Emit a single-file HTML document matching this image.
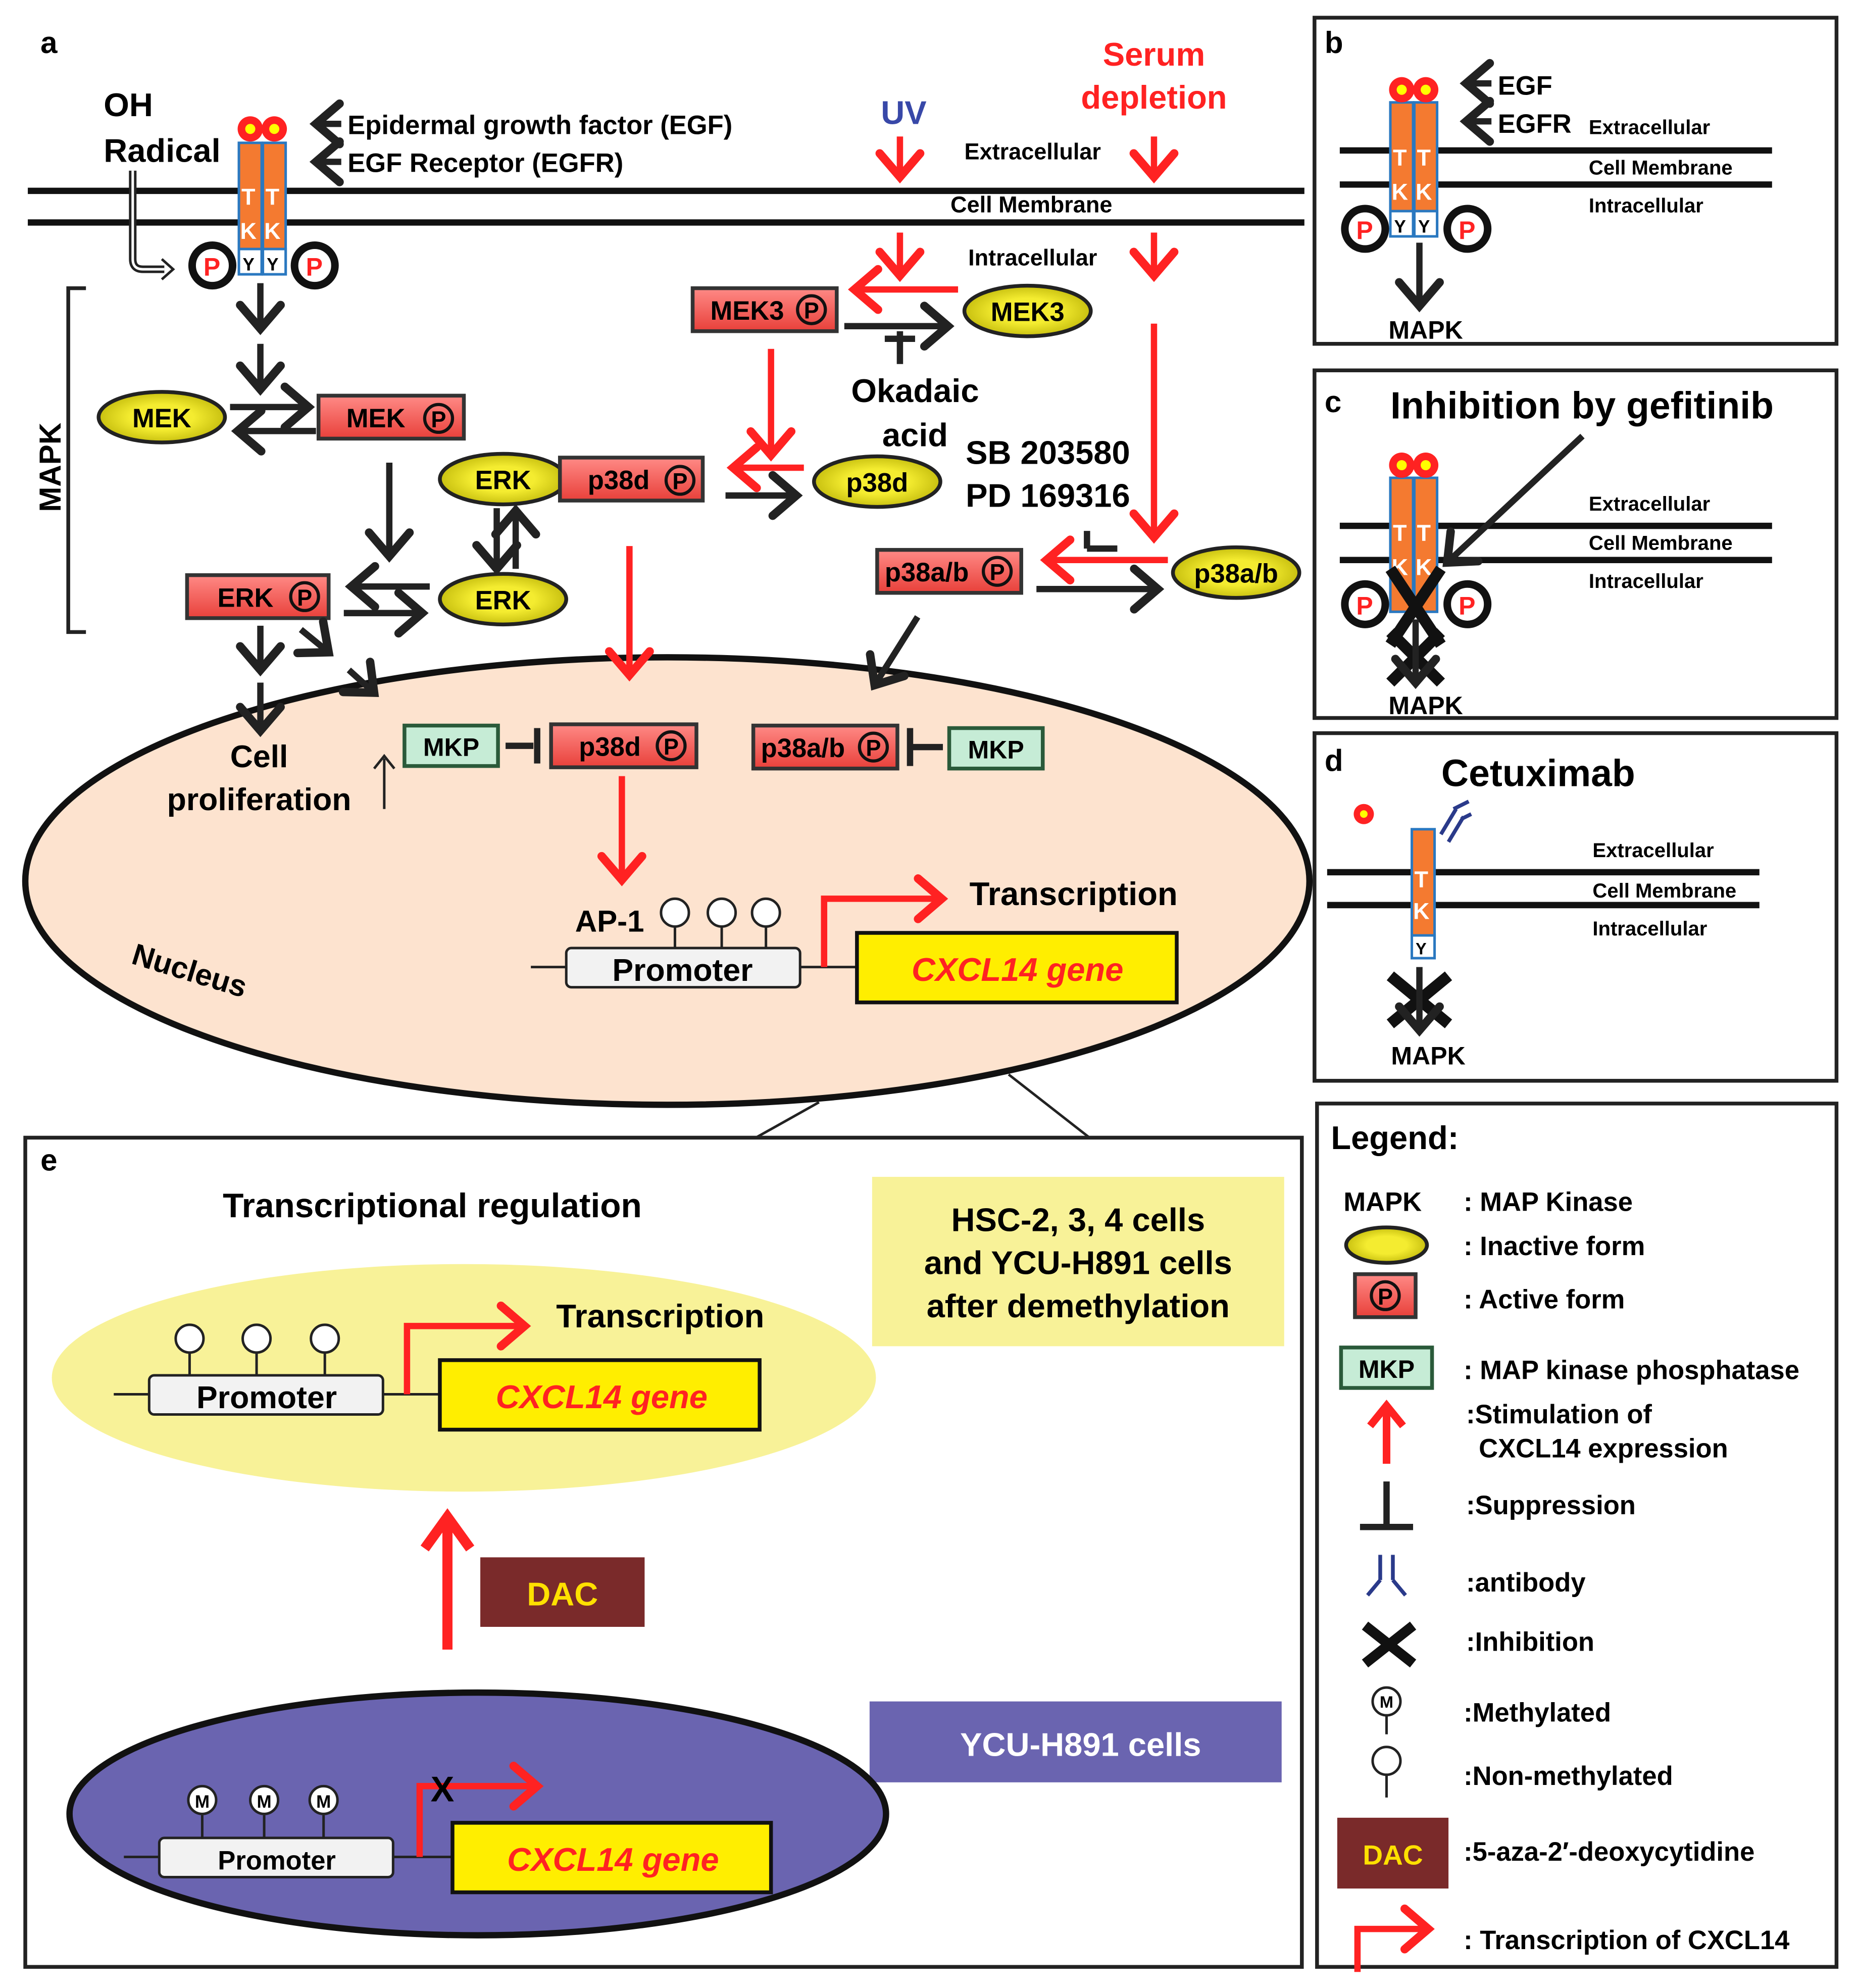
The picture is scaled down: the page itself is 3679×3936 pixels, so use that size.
<!DOCTYPE html>
<html><head><meta charset="utf-8"><style>
html,body{margin:0;padding:0;background:#fff}
svg{display:block}
text{font-family:"Liberation Sans",sans-serif;font-weight:bold}
</style></head><body>
<svg width="3679" height="3936" viewBox="0 0 1470 1572.7" xmlns="http://www.w3.org/2000/svg">
<defs>
<marker id="ab" markerUnits="userSpaceOnUse" markerWidth="40" markerHeight="40" refX="18" refY="15" orient="auto" viewBox="0 0 30 30">
<polyline points="4,3 18,15 4,27" fill="none" stroke="#222" stroke-width="5" stroke-linecap="round"/></marker>
<marker id="ar" markerUnits="userSpaceOnUse" markerWidth="40" markerHeight="40" refX="18" refY="15" orient="auto" viewBox="0 0 30 30">
<polyline points="4,3 18,15 4,27" fill="none" stroke="#f22" stroke-width="5" stroke-linecap="round"/></marker>
<linearGradient id="rg" x1="0" y1="0" x2="0" y2="1"><stop offset="0" stop-color="#ff8a86"/><stop offset="1" stop-color="#e8403a"/></linearGradient>
<radialGradient id="yg"><stop offset="0.5" stop-color="#f4ec30"/><stop offset="1" stop-color="#c8c010"/></radialGradient>
</defs>
<style>
.bl{stroke:#222;stroke-width:5;fill:none}
.rd{stroke:#f22;stroke-width:5;fill:none}
.mem{stroke:#111;stroke-width:5}
.ye{fill:url(#yg);stroke:#222;stroke-width:3}
.rb{fill:url(#rg);stroke:#333;stroke-width:3}
.gb{fill:#c6ecd6;stroke:#2a5a3a;stroke-width:3}
</style>

<!-- Panel a -->
<text x="32" y="42" font-size="24">a</text>
<line x1="22" y1="151" x2="1032" y2="151" class="mem"/>
<line x1="22" y1="176" x2="1032" y2="176" class="mem"/>
<text x="82" y="92" font-size="26">OH</text>
<text x="82" y="128" font-size="26">Radical</text>
<path d="M105 135 V205 Q105 213 113 213 H130" fill="none" stroke="#222" stroke-width="6"/>
<path d="M105 135 V205 Q105 213 113 213 H130" fill="none" stroke="#fff" stroke-width="2"/>
<polyline points="128,205 137,213 128,221" fill="none" stroke="#222" stroke-width="2"/>
<!-- receptor -->
<rect x="189" y="113" width="18" height="104" fill="#f47a30" stroke="#2a78c0" stroke-width="2"/>
<rect x="208" y="113" width="18" height="104" fill="#f47a30" stroke="#2a78c0" stroke-width="2"/>
<rect x="189" y="197" width="18" height="20" fill="#fff" stroke="#2a78c0" stroke-width="2"/>
<rect x="208" y="197" width="18" height="20" fill="#fff" stroke="#2a78c0" stroke-width="2"/>
<circle cx="198" cy="102" r="10" fill="#f22"/><circle cx="217" cy="102" r="10" fill="#f22"/>
<circle cx="198" cy="102" r="4" fill="#ff0"/><circle cx="217" cy="102" r="4" fill="#ff0"/>
<text x="191" y="162" font-size="18" fill="#fff">T</text><text x="210" y="162" font-size="18" fill="#fff">T</text>
<text x="190" y="189" font-size="18" fill="#fff">K</text><text x="209" y="189" font-size="18" fill="#fff">K</text>
<text x="192" y="214" font-size="14" font-weight="normal">Y</text><text x="211" y="214" font-size="14" font-weight="normal">Y</text>
<circle cx="168" cy="210" r="16" fill="#fff" stroke="#111" stroke-width="6"/><text x="161" y="218" font-size="20" fill="#f22">P</text>
<circle cx="249" cy="210" r="16" fill="#fff" stroke="#111" stroke-width="6"/><text x="242" y="218" font-size="20" fill="#f22">P</text>
<line x1="270" y1="98" x2="250" y2="98" class="bl" marker-end="url(#ab)"/>
<line x1="270" y1="128" x2="250" y2="128" class="bl" marker-end="url(#ab)"/>
<text x="275" y="106" font-size="21">Epidermal growth factor (EGF)</text>
<text x="275" y="136" font-size="21">EGF Receptor (EGFR)</text>
<!-- MAPK bracket -->
<polyline points="68,228 54,228 54,500 68,500" fill="none" stroke="#222" stroke-width="3"/>
<text x="0" y="0" font-size="24" transform="translate(48,405) rotate(-90)">MAPK</text>
<line x1="206" y1="224" x2="206" y2="260" class="bl" marker-end="url(#ab)"/>
<line x1="206" y1="272" x2="206" y2="308" class="bl" marker-end="url(#ab)"/>
<ellipse cx="128" cy="330" rx="50" ry="20" class="ye"/><text x="128" y="338" font-size="21" text-anchor="middle">MEK</text>
<rect x="252" y="313" width="115" height="34" class="rb"/><text x="274" y="338" font-size="21">MEK</text>
<circle cx="347" cy="331" r="11" fill="none" stroke="#111" stroke-width="2.5"/><text x="347" y="338" font-size="18" text-anchor="middle">P</text>
<line x1="182" y1="322" x2="244" y2="322" class="bl" marker-end="url(#ab)"/>
<line x1="250" y1="341" x2="188" y2="341" class="bl" marker-end="url(#ab)"/>
<line x1="308" y1="366" x2="308" y2="440" class="bl" marker-end="url(#ab)"/>
<rect x="148" y="455" width="112" height="34" class="rb"/><text x="172" y="480" font-size="21">ERK</text>
<circle cx="241" cy="472" r="11" fill="none" stroke="#111" stroke-width="2.5"/><text x="241" y="479" font-size="18" text-anchor="middle">P</text>
<ellipse cx="398" cy="474" rx="50" ry="20" class="ye"/><text x="398" y="482" font-size="21" text-anchor="middle">ERK</text>
<line x1="340" y1="464" x2="278" y2="464" class="bl" marker-end="url(#ab)"/>
<line x1="272" y1="485" x2="334" y2="485" class="bl" marker-end="url(#ab)"/>
<ellipse cx="398" cy="379" rx="50" ry="20" class="ye"/><text x="398" y="387" font-size="21" text-anchor="middle">ERK</text>
<line x1="393" y1="402" x2="393" y2="450" class="bl" marker-end="url(#ab)"/>
<line x1="408" y1="450" x2="408" y2="404" class="bl" marker-end="url(#ab)"/>
<rect x="443" y="362" width="113" height="34" class="rb"/><text x="465" y="387" font-size="21">p38d</text>
<circle cx="538" cy="380" r="11" fill="none" stroke="#111" stroke-width="2.5"/><text x="538" y="387" font-size="18" text-anchor="middle">P</text>
<ellipse cx="694" cy="381" rx="50" ry="20" class="ye"/><text x="694" y="389" font-size="21" text-anchor="middle">p38d</text>
<line x1="636" y1="370" x2="580" y2="370" class="rd" marker-end="url(#ar)"/>
<line x1="574" y1="392" x2="630" y2="392" class="bl" marker-end="url(#ab)"/>
<!-- UV / serum -->
<text x="715" y="98" font-size="26" fill="#3848a8" text-anchor="middle">UV</text>
<text x="913" y="52" font-size="26" fill="#f22" text-anchor="middle">Serum</text>
<text x="913" y="86" font-size="26" fill="#f22" text-anchor="middle">depletion</text>
<line x1="712" y1="108" x2="712" y2="140" class="rd" marker-end="url(#ar)"/>
<line x1="913" y1="108" x2="913" y2="140" class="rd" marker-end="url(#ar)"/>
<line x1="712" y1="184" x2="712" y2="218" class="rd" marker-end="url(#ar)"/>
<line x1="913" y1="184" x2="913" y2="218" class="rd" marker-end="url(#ar)"/>
<text x="763" y="126" font-size="18">Extracellular</text>
<text x="752" y="168" font-size="18">Cell Membrane</text>
<text x="766" y="210" font-size="18">Intracellular</text>
<rect x="548" y="228" width="114" height="34" class="rb"/><text x="562" y="253" font-size="21">MEK3</text>
<circle cx="642" cy="245" r="11" fill="none" stroke="#111" stroke-width="2.5"/><text x="642" y="252" font-size="18" text-anchor="middle">P</text>
<ellipse cx="813" cy="246" rx="50" ry="20" class="ye"/><text x="813" y="254" font-size="21" text-anchor="middle">MEK3</text>
<line x1="758" y1="229" x2="676" y2="229" class="rd" marker-end="url(#ar)"/>
<line x1="668" y1="258" x2="750" y2="258" class="bl" marker-end="url(#ab)"/>
<line x1="712" y1="262" x2="712" y2="288" stroke="#222" stroke-width="5"/>
<line x1="700" y1="268" x2="724" y2="268" stroke="#222" stroke-width="5"/>
<text x="724" y="318" font-size="26" text-anchor="middle">Okadaic</text>
<text x="724" y="353" font-size="26" text-anchor="middle">acid</text>
<text x="764" y="367" font-size="26">SB 203580</text>
<text x="764" y="401" font-size="26">PD 169316</text>
<line x1="610" y1="276" x2="610" y2="360" class="rd" marker-end="url(#ar)"/>
<line x1="913" y1="256" x2="913" y2="425" class="rd" marker-end="url(#ar)"/>
<line x1="860" y1="420" x2="860" y2="434" stroke="#222" stroke-width="5"/>
<line x1="860" y1="434" x2="884" y2="434" stroke="#222" stroke-width="5"/>
<rect x="694" y="435" width="114" height="34" class="rb"/><text x="700" y="460" font-size="21">p38a/b</text>
<circle cx="789" cy="452" r="11" fill="none" stroke="#111" stroke-width="2.5"/><text x="789" y="459" font-size="18" text-anchor="middle">P</text>
<ellipse cx="978" cy="453" rx="50" ry="20" class="ye"/><text x="978" y="461" font-size="21" text-anchor="middle">p38a/b</text>
<line x1="924" y1="443" x2="828" y2="443" class="rd" marker-end="url(#ar)"/>
<line x1="820" y1="466" x2="916" y2="466" class="bl" marker-end="url(#ab)"/>
<!-- nucleus -->
<ellipse cx="528" cy="697" rx="508" ry="177" fill="#fde3cf" stroke="#111" stroke-width="5"/>
<line x1="206" y1="495" x2="206" y2="530" class="bl" marker-end="url(#ab)"/>
<line x1="238" y1="498" x2="260" y2="516" class="bl" marker-end="url(#ab)"/>
<line x1="206" y1="540" x2="206" y2="578" class="bl" marker-end="url(#ab)"/>
<line x1="276" y1="530" x2="296" y2="548" class="bl" marker-end="url(#ab)"/>
<text x="205" y="607" font-size="25" text-anchor="middle">Cell</text>
<text x="205" y="641" font-size="25" text-anchor="middle">proliferation</text>
<line x1="304" y1="640" x2="304" y2="600" stroke="#222" stroke-width="2"/>
<polyline points="296,608 304,598 312,608" fill="none" stroke="#222" stroke-width="2"/>
<rect x="320" y="574" width="74" height="32" class="gb"/><text x="357" y="598" font-size="20" text-anchor="middle">MKP</text>
<line x1="400" y1="590" x2="422" y2="590" stroke="#222" stroke-width="5"/>
<line x1="425" y1="576" x2="425" y2="604" stroke="#222" stroke-width="5"/>
<rect x="436" y="573" width="115" height="34" class="rb"/><text x="458" y="598" font-size="21">p38d</text>
<circle cx="531" cy="590" r="11" fill="none" stroke="#111" stroke-width="2.5"/><text x="531" y="597" font-size="18" text-anchor="middle">P</text>
<line x1="498" y1="432" x2="498" y2="534" class="rd" marker-end="url(#ar)"/>
<line x1="726" y1="488" x2="692" y2="542" class="bl" marker-end="url(#ab)"/>
<rect x="596" y="574" width="114" height="34" class="rb"/><text x="602" y="599" font-size="21">p38a/b</text>
<circle cx="691" cy="591" r="11" fill="none" stroke="#111" stroke-width="2.5"/><text x="691" y="598" font-size="18" text-anchor="middle">P</text>
<line x1="720" y1="576" x2="720" y2="606" stroke="#222" stroke-width="5"/>
<line x1="722" y1="591" x2="746" y2="591" stroke="#222" stroke-width="5"/>
<rect x="751" y="576" width="74" height="32" class="gb"/><text x="788" y="600" font-size="20" text-anchor="middle">MKP</text>
<line x1="492" y1="614" x2="492" y2="696" class="rd" marker-end="url(#ar)"/>
<text x="455" y="737" font-size="24">AP-1</text>
<line x1="420" y1="765" x2="448" y2="765" stroke="#222" stroke-width="2"/>
<rect x="448" y="750" width="185" height="31" rx="4" fill="#f2f2f2" stroke="#222" stroke-width="2"/>
<text x="540" y="776" font-size="25" font-weight="normal" text-anchor="middle" style="font-weight:bold">Promoter</text>
<g fill="#fff" stroke="#222" stroke-width="2">
<line x1="534" y1="733" x2="534" y2="750"/><circle cx="534" cy="722" r="11"/>
<line x1="571" y1="733" x2="571" y2="750"/><circle cx="571" cy="722" r="11"/>
<line x1="606" y1="733" x2="606" y2="750"/><circle cx="606" cy="722" r="11"/>
</g>
<line x1="633" y1="765" x2="678" y2="765" stroke="#222" stroke-width="2"/>
<polyline points="652,765 652,711 745,711" class="rd" marker-end="url(#ar)"/>
<text x="767" y="716" font-size="26">Transcription</text>
<rect x="678" y="738" width="253" height="55" fill="#ffee00" stroke="#111" stroke-width="3"/>
<text x="805" y="776" font-size="26" fill="#f22" font-style="italic" text-anchor="middle">CXCL14 gene</text>
<text x="0" y="0" font-size="24" transform="translate(103,762) rotate(17)">Nucleus</text>
<!-- zoom lines -->
<line x1="648" y1="872" x2="598" y2="900" stroke="#222" stroke-width="2"/>
<line x1="798" y1="850" x2="862" y2="900" stroke="#222" stroke-width="2"/>

<!-- Panel e -->
<rect x="20" y="900" width="1010" height="656" fill="none" stroke="#222" stroke-width="3"/>
<text x="32" y="926" font-size="24">e</text>
<text x="342" y="963" font-size="27" text-anchor="middle">Transcriptional regulation</text>
<rect x="690" y="931" width="326" height="134" fill="#f8f298"/>
<text x="853" y="974" font-size="26" text-anchor="middle">HSC-2, 3, 4 cells</text>
<text x="853" y="1008" font-size="26" text-anchor="middle">and YCU-H891 cells</text>
<text x="853" y="1042" font-size="26" text-anchor="middle">after demethylation</text>
<ellipse cx="367" cy="1090" rx="326" ry="90" fill="#f8f298"/>
<line x1="90" y1="1103" x2="118" y2="1103" stroke="#222" stroke-width="2"/>
<rect x="118" y="1088" width="185" height="31" rx="4" fill="#f2f2f2" stroke="#222" stroke-width="2"/>
<text x="211" y="1114" font-size="25" text-anchor="middle">Promoter</text>
<g fill="#fff" stroke="#222" stroke-width="2">
<line x1="150" y1="1070" x2="150" y2="1088"/><circle cx="150" cy="1059" r="11"/>
<line x1="203" y1="1070" x2="203" y2="1088"/><circle cx="203" cy="1059" r="11"/>
<line x1="257" y1="1070" x2="257" y2="1088"/><circle cx="257" cy="1059" r="11"/>
</g>
<line x1="303" y1="1103" x2="348" y2="1103" stroke="#222" stroke-width="2"/>
<polyline points="322,1103 322,1049 415,1049" class="rd" marker-end="url(#ar)"/>
<text x="440" y="1050" font-size="26">Transcription</text>
<rect x="348" y="1076" width="253" height="55" fill="#ffee00" stroke="#111" stroke-width="3"/>
<text x="476" y="1114" font-size="26" fill="#f22" font-style="italic" text-anchor="middle">CXCL14 gene</text>
<line x1="354" y1="1305" x2="354" y2="1205" stroke="#f22" stroke-width="8"/>
<polyline points="336,1225 354,1200 372,1225" fill="none" stroke="#f22" stroke-width="8"/>
<rect x="380" y="1232" width="130" height="55" fill="#7a2a2a"/>
<text x="445" y="1270" font-size="26" fill="#ffe000" text-anchor="middle">DAC</text>
<rect x="688" y="1346" width="326" height="64" fill="#6a64b0"/>
<text x="855" y="1389" font-size="26" fill="#fff" text-anchor="middle">YCU-H891 cells</text>
<ellipse cx="378" cy="1435" rx="323" ry="96" fill="#6a64b0" stroke="#111" stroke-width="5"/>
<line x1="98" y1="1469" x2="126" y2="1469" stroke="#222" stroke-width="2"/>
<rect x="126" y="1454" width="185" height="31" rx="4" fill="#f2f2f2" stroke="#222" stroke-width="2"/>
<text x="219" y="1479" font-size="21" text-anchor="middle">Promoter</text>
<g fill="#fff" stroke="#222" stroke-width="2">
<line x1="160" y1="1436" x2="160" y2="1454"/><circle cx="160" cy="1424" r="11"/>
<line x1="209" y1="1436" x2="209" y2="1454"/><circle cx="209" cy="1424" r="11"/>
<line x1="256" y1="1436" x2="256" y2="1454"/><circle cx="256" cy="1424" r="11"/>
</g>
<text x="160" y="1430" font-size="14" text-anchor="middle">M</text><text x="209" y="1430" font-size="14" text-anchor="middle">M</text><text x="256" y="1430" font-size="14" text-anchor="middle">M</text>
<line x1="311" y1="1469" x2="358" y2="1469" stroke="#222" stroke-width="2"/>
<polyline points="332,1469 332,1413 425,1413" class="rd" marker-end="url(#ar)"/>
<text x="350" y="1425" font-size="28" text-anchor="middle">X</text>
<rect x="358" y="1442" width="252" height="55" fill="#ffee00" stroke="#111" stroke-width="3"/>
<text x="485" y="1480" font-size="26" fill="#f22" font-style="italic" text-anchor="middle">CXCL14 gene</text>

<!-- Panel b -->
<rect x="1040" y="14" width="413" height="258" fill="none" stroke="#222" stroke-width="3"/>
<text x="1048" y="42" font-size="24">b</text>
<line x1="1060" y1="119" x2="1402" y2="119" class="mem"/>
<line x1="1060" y1="146" x2="1402" y2="146" class="mem"/>
<rect x="1100" y="81" width="18" height="106" fill="#f47a30" stroke="#2a78c0" stroke-width="2"/>
<rect x="1119" y="81" width="18" height="106" fill="#f47a30" stroke="#2a78c0" stroke-width="2"/>
<rect x="1100" y="167" width="18" height="20" fill="#fff" stroke="#2a78c0" stroke-width="2"/>
<rect x="1119" y="167" width="18" height="20" fill="#fff" stroke="#2a78c0" stroke-width="2"/>
<circle cx="1109" cy="71" r="10" fill="#f22"/><circle cx="1128" cy="71" r="10" fill="#f22"/>
<circle cx="1109" cy="71" r="4" fill="#ff0"/><circle cx="1128" cy="71" r="4" fill="#ff0"/>
<text x="1102" y="131" font-size="18" fill="#fff">T</text><text x="1121" y="131" font-size="18" fill="#fff">T</text>
<text x="1101" y="158" font-size="18" fill="#fff">K</text><text x="1120" y="158" font-size="18" fill="#fff">K</text>
<text x="1103" y="184" font-size="14" font-weight="normal">Y</text><text x="1122" y="184" font-size="14" font-weight="normal">Y</text>
<circle cx="1080" cy="181" r="16" fill="#fff" stroke="#111" stroke-width="6"/><text x="1073" y="189" font-size="20" fill="#f22">P</text>
<circle cx="1161" cy="181" r="16" fill="#fff" stroke="#111" stroke-width="6"/><text x="1154" y="189" font-size="20" fill="#f22">P</text>
<line x1="1180" y1="66" x2="1160" y2="66" class="bl" marker-end="url(#ab)"/>
<line x1="1180" y1="96" x2="1160" y2="96" class="bl" marker-end="url(#ab)"/>
<text x="1185" y="75" font-size="21">EGF</text>
<text x="1185" y="105" font-size="21">EGFR</text>
<text x="1257" y="106" font-size="16">Extracellular</text>
<text x="1257" y="138" font-size="16">Cell Membrane</text>
<text x="1257" y="168" font-size="16">Intracellular</text>
<line x1="1123" y1="192" x2="1123" y2="242" class="bl" marker-end="url(#ab)"/>
<text x="1128" y="268" font-size="20" text-anchor="middle">MAPK</text>

<!-- Panel c -->
<rect x="1040" y="293" width="413" height="275" fill="none" stroke="#222" stroke-width="3"/>
<text x="1048" y="326" font-size="24">c</text>
<text x="1100" y="331" font-size="30">Inhibition by gefitinib</text>
<line x1="1060" y1="416" x2="1402" y2="416" class="mem"/>
<line x1="1060" y1="443" x2="1402" y2="443" class="mem"/>
<rect x="1100" y="378" width="18" height="106" fill="#f47a30" stroke="#2a78c0" stroke-width="2"/>
<rect x="1119" y="378" width="18" height="106" fill="#f47a30" stroke="#2a78c0" stroke-width="2"/>
<circle cx="1109" cy="368" r="10" fill="#f22"/><circle cx="1128" cy="368" r="10" fill="#f22"/>
<circle cx="1109" cy="368" r="4" fill="#ff0"/><circle cx="1128" cy="368" r="4" fill="#ff0"/>
<text x="1102" y="428" font-size="18" fill="#fff">T</text><text x="1121" y="428" font-size="18" fill="#fff">T</text>
<text x="1101" y="455" font-size="18" fill="#fff">K</text><text x="1120" y="455" font-size="18" fill="#fff">K</text>
<circle cx="1080" cy="478" r="16" fill="#fff" stroke="#111" stroke-width="6"/><text x="1073" y="486" font-size="20" fill="#f22">P</text>
<circle cx="1161" cy="478" r="16" fill="#fff" stroke="#111" stroke-width="6"/><text x="1154" y="486" font-size="20" fill="#f22">P</text>
<line x1="1252" y1="345" x2="1145" y2="445" class="bl" marker-end="url(#ab)"/>
<line x1="1100" y1="450" x2="1140" y2="510" stroke="#111" stroke-width="9"/>
<line x1="1140" y1="450" x2="1100" y2="510" stroke="#111" stroke-width="9"/>
<line x1="1100" y1="500" x2="1140" y2="540" stroke="#111" stroke-width="9"/>
<line x1="1140" y1="500" x2="1100" y2="540" stroke="#111" stroke-width="9"/>
<line x1="1120" y1="490" x2="1120" y2="540" class="bl" marker-end="url(#ab)"/>
<text x="1257" y="404" font-size="16">Extracellular</text>
<text x="1257" y="435" font-size="16">Cell Membrane</text>
<text x="1257" y="465" font-size="16">Intracellular</text>
<text x="1128" y="565" font-size="20" text-anchor="middle">MAPK</text>

<!-- Panel d -->
<rect x="1040" y="580" width="413" height="275" fill="none" stroke="#222" stroke-width="3"/>
<text x="1048" y="610" font-size="24">d</text>
<text x="1217" y="622" font-size="30" text-anchor="middle">Cetuximab</text>
<circle cx="1079" cy="644" r="8" fill="#f22"/><circle cx="1079" cy="644" r="3" fill="#ff0"/>
<line x1="1050" y1="690" x2="1392" y2="690" class="mem"/>
<line x1="1050" y1="716" x2="1392" y2="716" class="mem"/>
<rect x="1117" y="656" width="18" height="86" fill="#f47a30" stroke="#2a78c0" stroke-width="2"/>
<rect x="1117" y="740" width="18" height="18" fill="#fff" stroke="#2a78c0" stroke-width="2"/>
<text x="1119" y="702" font-size="18" fill="#fff">T</text><text x="1118" y="727" font-size="18" fill="#fff">K</text>
<text x="1120" y="755" font-size="13" font-weight="normal">Y</text>
<g stroke="#2a3a8a" stroke-width="3"><line x1="1140" y1="660" x2="1152" y2="640"/><line x1="1146" y1="666" x2="1158" y2="646"/><line x1="1150" y1="640" x2="1162" y2="634"/><line x1="1156" y1="648" x2="1164" y2="644"/></g>
<line x1="1100" y1="772" x2="1146" y2="810" stroke="#111" stroke-width="9"/>
<line x1="1146" y1="772" x2="1100" y2="810" stroke="#111" stroke-width="9"/>
<line x1="1123" y1="765" x2="1123" y2="815" class="bl" marker-end="url(#ab)"/>
<text x="1260" y="678" font-size="16">Extracellular</text>
<text x="1260" y="710" font-size="16">Cell Membrane</text>
<text x="1260" y="740" font-size="16">Intracellular</text>
<text x="1130" y="842" font-size="20" text-anchor="middle">MAPK</text>

<!-- Legend -->
<rect x="1042" y="873" width="411" height="683" fill="none" stroke="#222" stroke-width="3"/>
<text x="1053" y="909" font-size="26">Legend:</text>
<text x="1063" y="958" font-size="21" font-weight="normal">MAPK</text>
<g font-size="21">
<text x="1158" y="958">: MAP Kinase</text>
<text x="1158" y="993">: Inactive form</text>
<text x="1158" y="1035">: Active form</text>
<text x="1158" y="1091">: MAP kinase phosphatase</text>
<text x="1160" y="1126">:Stimulation of</text>
<text x="1170" y="1153">CXCL14 expression</text>
<text x="1160" y="1198">:Suppression</text>
<text x="1160" y="1259">:antibody</text>
<text x="1160" y="1306">:Inhibition</text>
<text x="1158" y="1362">:Methylated</text>
<text x="1158" y="1412">:Non-methylated</text>
<text x="1158" y="1472">:5-aza-2′-deoxycytidine</text>
<text x="1158" y="1542">: Transcription of CXCL14</text>
</g>
<ellipse cx="1097" cy="985" rx="32" ry="14" class="ye"/>
<rect x="1072" y="1008" width="48" height="34" class="rb"/>
<circle cx="1096" cy="1025" r="11" fill="none" stroke="#111" stroke-width="2.5"/><text x="1096" y="1032" font-size="18" text-anchor="middle">P</text>
<rect x="1061" y="1066" width="72" height="32" class="gb"/><text x="1097" y="1090" font-size="20" text-anchor="middle">MKP</text>
<line x1="1097" y1="1158" x2="1097" y2="1114" stroke="#f22" stroke-width="6"/>
<polyline points="1084,1128 1097,1112 1110,1128" fill="none" stroke="#f22" stroke-width="6"/>
<line x1="1097" y1="1172" x2="1097" y2="1208" stroke="#222" stroke-width="5"/>
<line x1="1076" y1="1208" x2="1118" y2="1208" stroke="#222" stroke-width="5"/>
<g stroke="#2a3a8a" stroke-width="3"><line x1="1092" y1="1230" x2="1092" y2="1250"/><line x1="1102" y1="1230" x2="1102" y2="1250"/><line x1="1092" y1="1250" x2="1082" y2="1262"/><line x1="1102" y1="1250" x2="1112" y2="1262"/></g>
<line x1="1080" y1="1286" x2="1118" y2="1316" stroke="#111" stroke-width="8"/>
<line x1="1118" y1="1286" x2="1080" y2="1316" stroke="#111" stroke-width="8"/>
<g fill="#fff" stroke="#222" stroke-width="2">
<circle cx="1097" cy="1346" r="11"/><line x1="1097" y1="1357" x2="1097" y2="1372"/>
<circle cx="1097" cy="1393" r="11"/><line x1="1097" y1="1404" x2="1097" y2="1422"/>
</g>
<text x="1097" y="1351" font-size="13" text-anchor="middle">M</text>
<rect x="1058" y="1438" width="88" height="56" fill="#7a2a2a"/>
<text x="1102" y="1475" font-size="22" fill="#ffe000" text-anchor="middle">DAC</text>
<polyline points="1074,1560 1074,1526 1130,1526" class="rd" marker-end="url(#ar)"/>
</svg>
</body></html>
